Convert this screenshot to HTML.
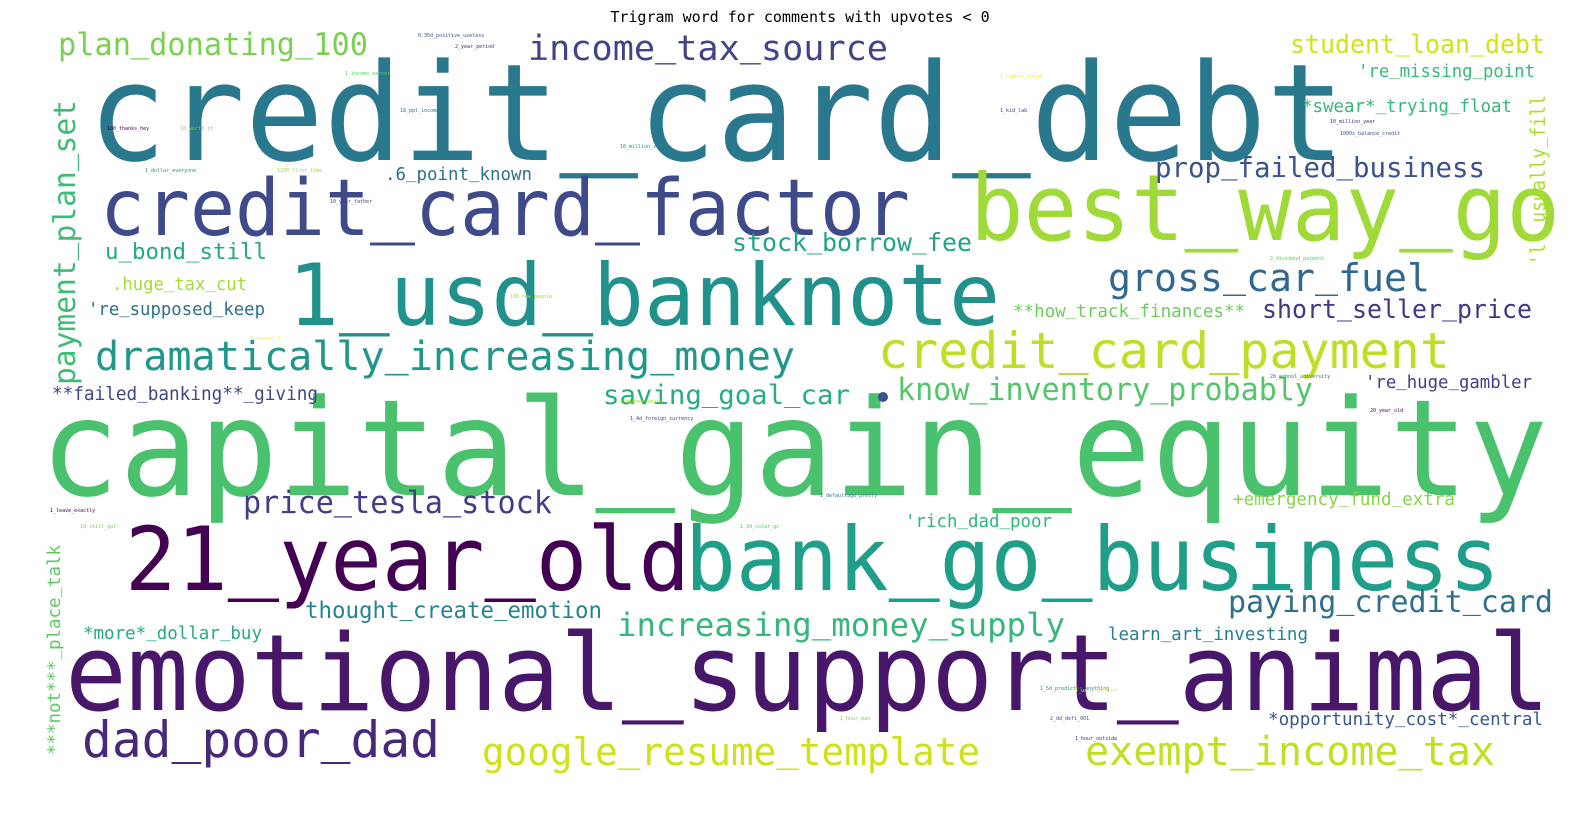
<!DOCTYPE html>
<html><head><meta charset="utf-8"><style>
html,body{margin:0;padding:0;background:#fff;}
svg{display:block;}
text{font-family:"DejaVu Sans Mono","Liberation Mono",monospace;}
</style></head>
<body>
<svg id="cloud" width="1596" height="834" viewBox="0 0 1596 834" xmlns="http://www.w3.org/2000/svg">
<text x="800" y="22" text-anchor="middle" font-family="DejaVu Sans, Liberation Sans, sans-serif" font-size="15" fill="#000">Trigram word for comments with upvotes &lt; 0</text>
</svg>
<script>
const words = ["credit_card_debt","credit_card_factor","best_way_go","1_usd_banknote","capital_gain_equity","21_year_old","bank_go_business","emotional_support_animal","dad_poor_dad","google_resume_template","exempt_income_tax","credit_card_payment","dramatically_increasing_money","plan_donating_100","income_tax_source","student_loan_debt","'re_missing_point","*swear*_trying_float","prop_failed_business",".6_point_known","stock_borrow_fee","u_bond_still","gross_car_fuel",".huge_tax_cut","'re_supposed_keep","**how_track_finances**","short_seller_price","payment_plan_set","'ll_usually_fill","**failed_banking**_giving","saving_goal_car","know_inventory_probably","'re_huge_gambler","price_tesla_stock","+emergency_fund_extra","'rich_dad_poor","thought_create_emotion","increasing_money_supply","paying_credit_card","*more*_dollar_buy","learn_art_investing","***not***_place_talk","*opportunity_cost*_central"];
const weights = [135,78,92,86,134,88,88,106,50,38,40,50,40,31,35,26,18,18,28,18,25,22,38,18,18,18,26,30,20,19,27,31,18,31,18,18,23,32,30,18,18,18,18];
const colors = ["#2a788e","#3e4a89","#a0da39","#21918c","#4ac16d","#440154","#1f9e89","#481769","#482878","#d0e11c","#c2df23","#bddf26","#1f988b","#7ad151","#414487","#d2e21b","#3aba76","#35b779","#3b528b","#2c728e","#20a486","#22a884","#31688e","#a5db36","#2d708e","#6ccd5a","#453781","#3dbc74","#addc30","#3f4788","#26ad81","#54c568","#433e85","#433d84","#87d549","#2fb47c","#25848e","#35b779","#2d708e","#25ab82","#277f8e","#5ec962","#38588c"];
// layout boxes: [x-start, x-end, baseline, vertical]
const layout = [[88,1345,160,0],[100,910,235,0],[970,1560,240,0],[288,1000,325,0],[40,1548,495,0],[125,690,590,0],[685,1500,590,0],[65,1550,710,0],[82,440,757,0],[482,980,765,0],[1085,1495,765,0],[878,1450,368,0],[95,795,370,0],[58,368,55,0],[528,888,60,0],[1290,1545,53,0],[1358,1535,77,0],[1302,1512,112,0],[1155,1485,177,0],[385,532,180,0],[732,972,251,0],[105,267,259,0],[1108,1430,291,0],[112,247,290,0],[88,265,315,0],[1013,1245,317,0],[1262,1532,318,0],[385,100,75,1],[265,95,1545,1],[52,318,400,0],[603,850,404,0],[897,1313,400,0],[1365,1532,388,0],[243,552,513,0],[1233,1455,505,0],[905,1052,527,0],[305,602,618,0],[617,1065,636,0],[1228,1553,612,0],[83,262,639,0],[1108,1308,640,0],[755,545,60,1],[1268,1543,725,0]];
const tiny = ["0.35d_positive_useless","2_year_period","1_income_earner","18_ppl_income","100_thanks_hey","10_worth_it","1_dollar_everyone","1200_first_time","10_year_father","1_cipher_large","1000s_balance_credit","10_million_year","2_dividend_payment","20_school_university","1_leave_exactly","10_still_got","1_5d_predictor_anything","2_higher_smart","1_4d_foreign_currency","1_usd_constant","2_dd_defi_001","1_hour_outside","1_3d_solar_go","1_defaultage_pretty","20_year_old","1_hour_man","10_million_still","100_new_people","1_kid_lab","2_reason_1"];
const tinyColors = ["#3b528b","#482878","#5ec962","#2c728e","#440154","#7ad151","#21918c","#a0da39","#433e85","#fde725"];
const tinyPos = [[418,37],[455,48],[345,75],[400,112],[107,130],[180,130],[145,172],[277,172],[330,203],[1000,78],[1340,135],[1330,123],[1270,260],[1270,378],[50,512],[80,528],[1040,690],[620,403],[630,420],[1075,692],[1050,720],[1075,740],[740,528],[820,497],[1370,412],[840,720],[620,148],[510,298],[1000,112],[250,340]];
const svg = document.getElementById('cloud');
const NS = 'http://www.w3.org/2000/svg';
words.forEach((w,i)=>{
  const t = document.createElementNS(NS,'text');
  
  
  const L = layout[i];
  const len = Math.abs(L[1]-L[0]);
  if(L[3]){
    t.setAttribute('x',0); t.setAttribute('y',0);
    t.setAttribute('transform','translate('+L[2]+','+L[0]+') rotate(-90)');
  } else {
    t.setAttribute('x',L[0]); t.setAttribute('y',L[2]);
  }
  t.setAttribute('font-size',weights[i]);
  t.setAttribute('fill',colors[i]);
  t.setAttribute('textLength',len);
  t.setAttribute('lengthAdjust','spacingAndGlyphs');
  const up = (weights[i]*0.1).toFixed(1);
  const parts = w.split('_');
  parts.forEach((p,j)=>{
    if(j>0){
      const u = document.createElementNS(NS,'tspan');
      u.setAttribute('dy','-'+up);
      u.textContent = '_';
      t.appendChild(u);
    }
    const s = document.createElementNS(NS,'tspan');
    if(j>0) s.setAttribute('dy',up);
    s.textContent = p;
    t.appendChild(s);
  });
  svg.appendChild(t);
});
tiny.forEach((w,i)=>{
  const t = document.createElementNS(NS,'text');
  
  
  t.setAttribute('x',tinyPos[i][0]); t.setAttribute('y',tinyPos[i][1]);
  t.setAttribute('font-size',5);
  t.setAttribute('fill',tinyColors[i%tinyColors.length]);
  t.textContent = w;
  svg.appendChild(t);
});
const dot = document.createElementNS(NS,'circle');


dot.setAttribute('cx',883); dot.setAttribute('cy',397); dot.setAttribute('r',5); dot.setAttribute('fill','#3b528b');
svg.appendChild(dot);
</script>
</body></html>
